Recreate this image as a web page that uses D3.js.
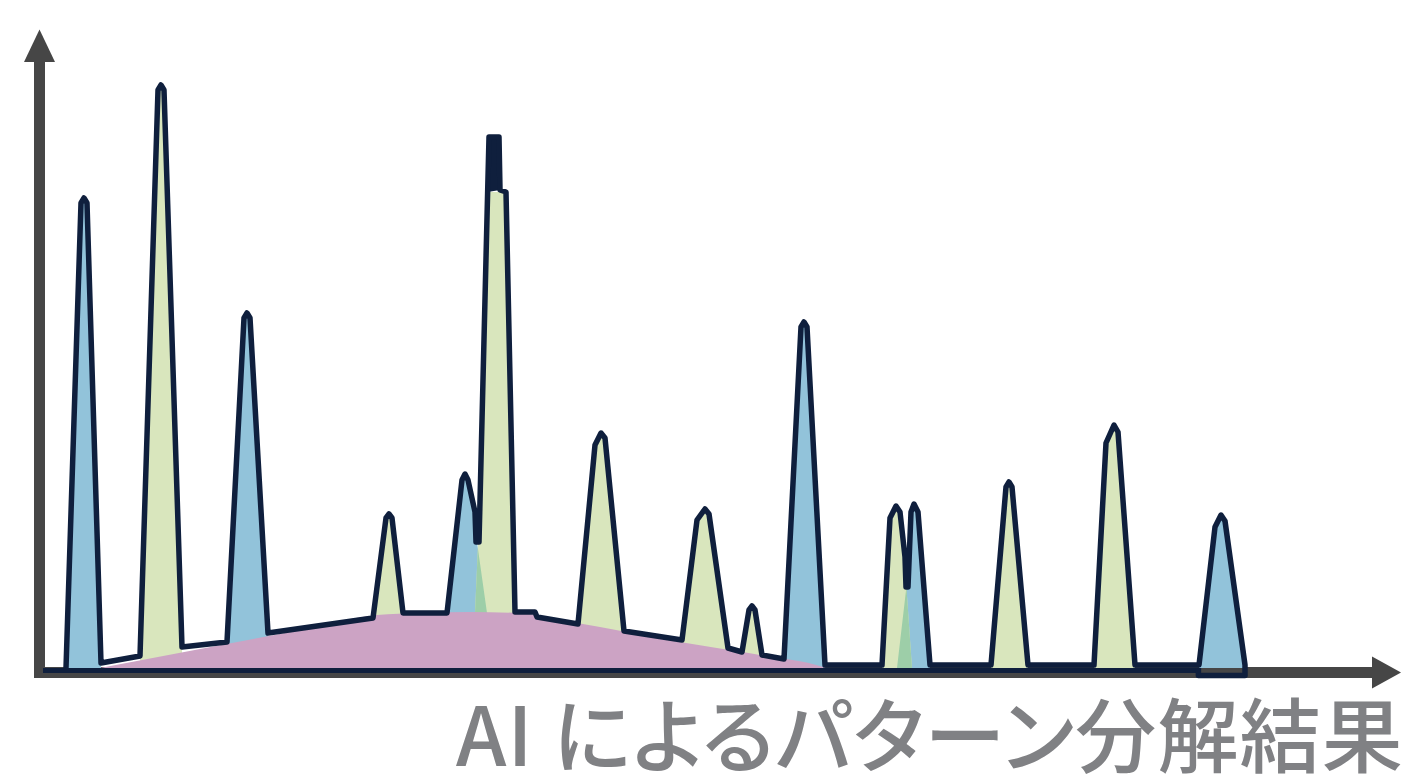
<!DOCTYPE html>
<html>
<head>
<meta charset="utf-8">
<script src="https://cdn.jsdelivr.net/npm/d3@7"></script>
<style>
  html, body { margin: 0; padding: 0; background: #fff; }
  svg { display: block; }
  .caption { font-feature-settings: "palt" 1; letter-spacing: 1.2px; }
</style>
</head>
<body>
<svg id="chart" width="1403" height="776"></svg>
<script>
const sumOutline = [
  [6.5,0],[10.25,116.25],[11,117.5],[11.75,116.25],[15.25,1.25],
  [25,3],[29.5,144.5],[30.25,145.75],[31,144.5],[35.5,5.25],
  [46.75,6.5],[51,87.5],[51.75,88.75],[52.5,87.5],[57,8.75],
  [83.25,12.5],[86.5,37.5],[87.25,38.5],[88,37.5],[90.75,13.75],
  [101.75,13.75],[105.5,47],[106.25,48.5],[107,47],[108.75,39],[109,31.5],[109.75,31.5],
  [112.25,132.75],[114.75,132.75],[115,119.5],[116.5,119],[118.75,14],
  [123.75,14],[124.25,12.75],[134.5,11],
  [138.75,55.75],[140.25,58.75],[141.25,57.5],[146,9.25],
  [160.5,7],[164.25,37],[166.25,39.75],[167.25,38.5],[172,5],
  [175.5,4],[177.25,14.5],[178,15.5],[178.75,14.5],[180.5,3.25],
  [186,2.25],[190.25,85.25],[191,86.5],[191.75,85.25],[196.25,0.75],
  [210.5,0.75],[212.5,37.5],[214,40.5],[215,39],[216.25,27.75],[216.5,20.25],[217,20.25],
  [217.75,39],[218.5,41],[219.5,39],[222.5,0.75],
  [237.75,0.75],[241.5,45.25],[242.25,46.5],[243,45.25],[247,0.75],
  [263.5,0.75],[266.5,56.25],[268.5,60.75],[269.5,59],[273.75,0.75],
  [289.75,0.75],[293.75,35.25],[295.25,38.25],[296.25,36.75],[301.25,0.75],
  [301.25,-1.9],[289.6,-1.9],[289.6,0]
];

// Components found by the decomposition
const bluePeaks = [
  [[6.5,0],[10.25,116.25],[11,117.5],[11.75,116.25],[15.25,1.25],[15.25,0]],
  [[46.75,0],[46.75,6.5],[51,87.5],[51.75,88.75],[52.5,87.5],[57,8.75],[57,0]],
  [[101.75,0],[101.75,13.75],[105.5,47],[106.25,48.5],[107,47],[108.75,39],[109.25,31.5],[111.75,13.75],[111.75,0]],
  [[186,0],[186,2.25],[190.25,85.25],[191,86.5],[191.75,85.25],[196.25,0.75],[196.25,0]],
  [[214.25,0],[216.6,20.25],[217.75,39],[218.5,41],[219.5,39],[222.5,0.75],[222.5,0]],
  [[289.75,0],[289.75,0.75],[293.75,35.25],[295.25,38.25],[296.25,36.75],[301.25,0.75],[301.25,0]]
];
const greenPeaks = [
  [[25,0],[25,3],[29.5,144.5],[30.25,145.75],[31,144.5],[35.5,5.25],[35.5,0]],
  [[83.25,0],[83.25,12.5],[86.5,37.5],[87.25,38.5],[88,37.5],[90.75,13.75],[90.75,0]],
  [[108.75,0],[108.75,13.75],[109.5,30.75],[111.9,119],[116.5,119],[118.75,14],[118.75,0]],
  [[134.5,0],[134.5,11],[138.75,55.75],[140.25,58.75],[141.25,57.5],[146,9.25],[146,0]],
  [[160.5,0],[160.5,7],[164.25,37],[166.25,39.75],[167.25,38.5],[172,5],[172,0]],
  [[175.5,0],[175.5,4],[177.25,14.5],[178,15.5],[178.75,14.5],[180.5,3.25],[180.5,0]],
  [[210.5,0],[210.5,0.75],[212.5,37.5],[214,40.5],[215,39],[216.25,27.75],[216.6,20.25],[218,0]],
  [[237.75,0],[237.75,0.75],[241.5,45.25],[242.25,46.5],[243,45.25],[247,0.75],[247,0]],
  [[263.5,0],[263.5,0.75],[266.5,56.25],[268.5,60.75],[269.5,59],[273.75,0.75],[273.75,0]]
];
// narrow spike on top of the tallest middle peak
const sharpPeaks = [
  [[112.25,132.75],[114.75,132.75],[115,119.5],[111.9,119]]
];
// broad background component
const pinkHump = [
  [15,0],[40,4.75],[65,9.5],[84.25,13.25],[95,13.75],[107.5,14],[120,13.75],
  [130,12],[140,10.25],[160,6.5],[180,3.25],[195.75,0.25],[196.5,0]
];
// [blue index, green index] pairs that overlap
const overlaps = [[2, 2], [4, 6]];
const baseSpan = [0.75, 289.6];
const caption = "AI によるパターン分解結果";

const colors = {
  blue: "#92c3da", green: "#d9e6bd", mint: "#9dcea8",
  pink: "#cca3c4", navy: "#0f1f3d", axis: "#464646", text: "#808184"
};

const svg = d3.select("#chart");
const x = d3.scaleLinear().domain([0, 333]).range([40, 1372]);
const y = d3.scaleLinear().domain([0, 160]).range([668, 28]);

const line = d3.line().x(d => x(d[0])).y(d => y(d[1]));

// axes (thick gray bars with arrow heads)
let axisY = y(0) + 4.5;
let axisX = x(0) - 0.5;
let g = svg.append("g").attr("class", "axes").attr("fill", colors.axis);
g.append("rect").attr("x", axisX - 5.5).attr("y", 61).attr("width", 11).attr("height", axisY + 5.5 - 61);
g.append("rect").attr("x", axisX - 5.5).attr("y", axisY - 5.5).attr("width", x.range()[1] - axisX + 6).attr("height", 11);
g.append("path").attr("d", `M${axisX - 15.5},62 L${axisX + 15.5},62 L${axisX},29.5 Z`);
g.append("path").attr("d", `M${x.range()[1]},${axisY - 16} L${x.range()[1]},${axisY + 16} L1401,${axisY} Z`);

// component fills
let fills = svg.append("g").attr("class", "components");
fills.selectAll(".blue").data(bluePeaks).enter().append("path")
  .attr("class", "blue")
  .attr("d", d => line(d) + "Z").attr("fill", colors.blue);
fills.selectAll(".green").data(greenPeaks).enter().append("path")
  .attr("class", "green")
  .attr("d", d => line(d) + "Z").attr("fill", colors.green);

// overlap regions: green shape clipped by the blue one
let defs = svg.append("defs");
overlaps.forEach(function(p, i) {
  defs.append("clipPath").attr("id", "ov" + i)
    .append("path").attr("d", line(bluePeaks[p[0]]) + "Z");
  fills.append("path")
    .attr("d", line(greenPeaks[p[1]]) + "Z")
    .attr("fill", colors.mint)
    .attr("clip-path", `url(#ov${i})`);
});

// broad background
svg.append("path")
  .attr("d", d3.line().x(d => x(d[0])).y(d => y(d[1])).curve(d3.curveMonotoneX)(pinkHump) + "Z")
  .attr("fill", colors.pink);

svg.selectAll(".sharp").data(sharpPeaks).enter().append("path")
  .attr("class", "sharp").attr("d", d => line(d) + "Z").attr("fill", colors.navy);

// base line under the signal
svg.append("line")
  .attr("x1", x(baseSpan[0])).attr("x2", x(baseSpan[1]))
  .attr("y1", y(0) + 2.5).attr("y2", y(0) + 2.5)
  .attr("stroke", colors.navy).attr("stroke-width", 5);

// measured signal
svg.append("path")
  .attr("d", line(sumOutline))
  .attr("fill", "none")
  .attr("stroke", colors.navy)
  .attr("stroke-width", 5.5)
  .attr("stroke-linejoin", "round");

svg.append("text")
  .attr("class", "caption")
  .attr("x", 1404).attr("y", 766)
  .attr("text-anchor", "end")
  .attr("font-family", "'Noto Sans CJK JP', 'Noto Sans', sans-serif")
  .attr("font-weight", 500)
  .attr("font-size", 81)
  .attr("fill", colors.text)
  .text(caption);
</script>
</body>
</html>
